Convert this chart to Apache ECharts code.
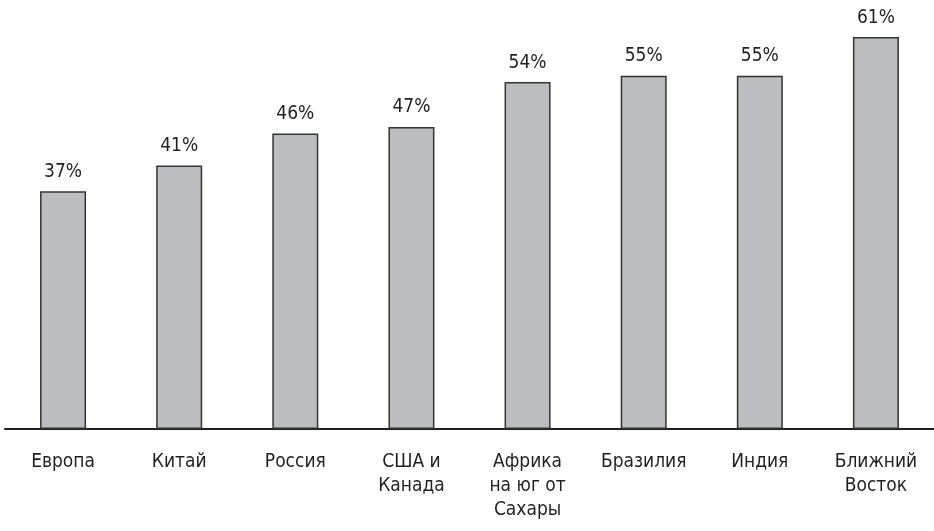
<!DOCTYPE html>
<html><head><meta charset="utf-8">
<script src="https://cdn.jsdelivr.net/npm/echarts@6/dist/echarts.min.js"></script>
<style>html,body{margin:0;padding:0;background:#fff}#c{width:934px;height:531px}</style>
</head><body><div id="c"></div>
<script>
const categories = ['Европа','Китай','Россия','США и\nКанада','Африка\nна юг от\nСахары','Бразилия','Индия','Ближний\nВосток'];
const values = [37,41,46,47,54,55,55,61];
const font = '"DejaVu Sans Condensed","DejaVu Sans",sans-serif';
const chart = echarts.init(document.getElementById('c'));
chart.setOption({
  animation:false,
  grid:{left:5,right:0,top:5,bottom:102,containLabel:false},
  xAxis:{type:'category',data:categories,
    axisLine:{lineStyle:{color:'#231f20',width:2}},
    axisTick:{show:false},
    axisLabel:{color:'#231f20',fontSize:19,fontFamily:font,lineHeight:24,margin:21,interval:0,align:'center'}},
  yAxis:{type:'value',min:0,max:66,show:false,splitLine:{show:false}},
  series:[{type:'bar',data:values,barWidth:46,
    itemStyle:{color:'#bcbdc1',borderColor:'#333333',borderWidth:1.5},
    label:{show:true,position:'top',distance:10,formatter:'{c}%',color:'#231f20',fontSize:19,fontFamily:font}}]
});
</script></body></html>
